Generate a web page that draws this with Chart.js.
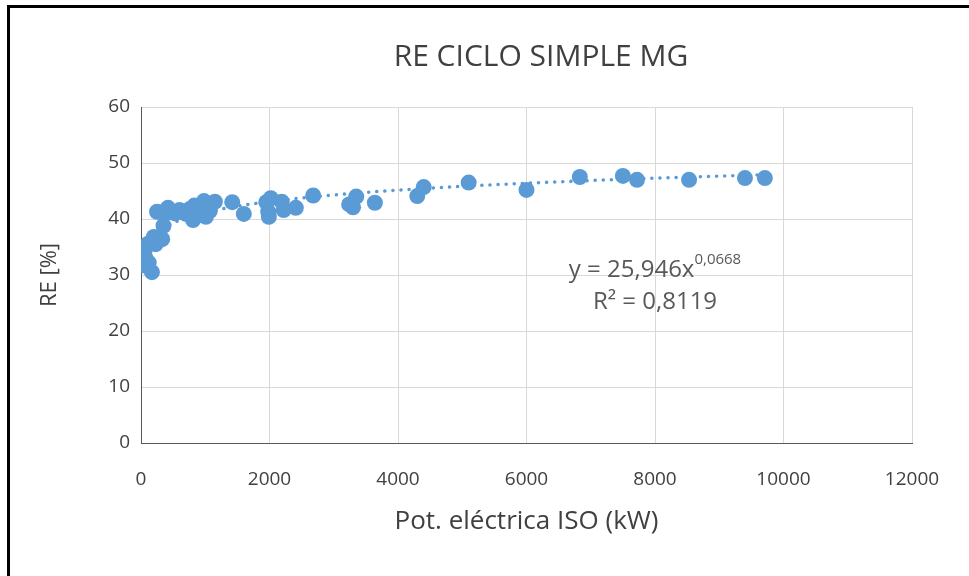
<!DOCTYPE html>
<html lang="es">
<head>
    <meta charset="UTF-8">
    <title>RE ciclo simple MG</title>
    <script src="https://cdn.jsdelivr.net/npm/chart.js"></script>
</head>
<style>
    html, body {
        margin: 0;
        padding: 0;
        background: #ffffff;
    }
    .frame {
        position: relative;
        width: 969px;
        height: 576px;
        overflow: hidden;
    }
    .edge-top {
        position: absolute;
        left: 7px; top: 5px;
        width: 962px; height: 3px;
        background: #000;
    }
    .edge-left {
        position: absolute;
        left: 7px; top: 5px;
        width: 3px; height: 571px;
        background: #000;
    }
    canvas {
        position: absolute;
        left: 0; top: 0;
    }
</style>
<body>
    <div class="frame">
        <canvas id="reChart" width="969" height="576"></canvas>
        <div class="edge-top"></div>
        <div class="edge-left"></div>
    </div>
    <script>
        // potencia ISO (kW) y rendimiento electrico (%)
        const potencia = [
            50, 60, 70, 110, 120, 170, 200, 230, 250, 330, 350, 370, 420,
            450, 530, 600, 650, 700, 760, 810, 830, 880, 920, 980, 1010,
            1050, 1070, 1100, 1150, 1420, 1600, 1950, 1980, 1990, 2020,
            2190, 2220, 2410, 2680, 3240, 3300, 3350, 3640, 4300, 4400,
            5100, 6000, 6830, 7500, 7720, 8530, 9400, 9710
        ];
        const rendimiento = [
            31.7, 34.5, 33.0, 35.6, 32.2, 30.5, 36.8, 35.5, 41.3, 36.4, 38.8, 41.4, 42.0,
            41.2, 41.0, 41.6, 41.2, 40.9, 41.8, 39.8, 42.4, 41.6, 40.7, 43.2, 40.4,
            42.2, 41.4, 42.7, 43.1, 43.0, 40.9, 43.0, 41.3, 40.4, 43.7,
            43.1, 41.6, 42.0, 44.2, 42.6, 42.1, 44.0, 42.9, 44.1, 45.7,
            46.5, 45.2, 47.5, 47.7, 47.0, 47.0, 47.3, 47.3
        ];

        // linea de tendencia potencial (Excel): y = 25,946 x^0,0668
        const trendA = 25.946;
        const trendB = 0.0668;
        const trendFrom = 50;
        const trendTo = 9710;

        const xTicks = [0, 2000, 4000, 6000, 8000, 10000, 12000];
        const yTicks = [0, 10, 20, 30, 40, 50, 60];

        const points = potencia.map((p, i) => ({ x: p, y: rendimiento[i] }));

        const trend = [];
        for (let k = 0; k <= 200; k++) {
            // espaciado logaritmico para que la curva sea suave cerca de cero
            const x = trendFrom * Math.pow(trendTo / trendFrom, k / 200);
            trend.push({ x: x, y: trendA * Math.pow(x, trendB) });
        }

        const textColor = '#404040';
        const fontName = "'Open Sans', 'Liberation Sans', sans-serif";

        // titulo centrado sobre todo el recuadro, no solo sobre el area del grafico
        const chartTitle = {
            id: 'chartTitle',
            afterDraw(chart) {
                const ctx = chart.ctx;
                ctx.save();
                ctx.fillStyle = textColor;
                ctx.font = '30px ' + fontName;
                ctx.textAlign = 'center';
                ctx.textBaseline = 'middle';
                ctx.fillText('RE CICLO SIMPLE MG', 541, 57);
                ctx.restore();
            }
        };

        // ecuacion y R2 dibujados dentro del area del grafico
        const equationLabel = {
            id: 'equationLabel',
            afterDatasetsDraw(chart) {
                const ctx = chart.ctx;
                const xs = chart.scales.x;
                const ys = chart.scales.y;
                ctx.save();
                ctx.fillStyle = '#595959';
                ctx.textBaseline = 'middle';
                const baseX = xs.getPixelForValue(8000);
                const y1 = ys.getPixelForValue(30.9);
                const main = 'y = 25,946x';
                const sup = '0,0668';
                ctx.font = '24px ' + fontName;
                const w = ctx.measureText(main).width;
                ctx.font = '15px ' + fontName;
                const ws = ctx.measureText(sup).width;
                const startX = baseX - (w + ws) / 2;
                ctx.textAlign = 'left';
                ctx.font = '24px ' + fontName;
                ctx.fillText(main, startX, y1);
                ctx.font = '15px ' + fontName;
                ctx.fillText(sup, startX + w, y1 - 10);
                ctx.font = '24px ' + fontName;
                ctx.textAlign = 'center';
                ctx.fillText('R² = 0,8119', baseX, ys.getPixelForValue(25.1));
                ctx.restore();
            }
        };

        const ctx = document.getElementById('reChart').getContext('2d');
        const reChart = new Chart(ctx, {
            type: 'scatter',
            data: {
                datasets: [{
                    label: 'RE',
                    data: points,
                    backgroundColor: '#5b9bd5',
                    borderColor: '#5b9bd5',
                    pointRadius: 8,
                    pointHoverRadius: 8,
                    borderWidth: 0,
                    order: 1
                }, {
                    label: 'Potencial (RE)',
                    type: 'line',
                    data: trend,
                    borderColor: '#5b9bd5',
                    borderWidth: 3.5,
                    borderDash: [0.1, 8],
                    borderCapStyle: 'round',
                    pointRadius: 0,
                    fill: false,
                    tension: 0,
                    order: 2
                }]
            },
            options: {
                responsive: false,
                animation: false,
                layout: { padding: { left: 0, right: 57, top: 107, bottom: 0 } },
                plugins: {
                    legend: { display: false },
                    tooltip: { enabled: false },
                    title: { display: false }
                },
                scales: {
                    x: {
                        type: 'linear',
                        min: 0,
                        max: 12000,
                        afterBuildTicks: s => { s.ticks = xTicks.map(v => ({ value: v })); },
                        afterFit: s => { s.height = 133; },
                        ticks: {
                            color: textColor,
                            font: { family: fontName, size: 19 },
                            padding: 25,
                            maxRotation: 0,
                            callback: v => String(v)
                        },
                        grid: { color: '#d9d9d9', drawTicks: false },
                        border: { color: '#595959', width: 1 },
                        title: {
                            display: true,
                            text: 'Pot. eléctrica ISO (kW)',
                            color: textColor,
                            font: { family: fontName, size: 26 },
                            padding: { top: 0, bottom: 39 }
                        }
                    },
                    y: {
                        min: 0,
                        max: 60,
                        afterBuildTicks: s => { s.ticks = yTicks.map(v => ({ value: v })); },
                        afterFit: s => { s.width = 141; },
                        ticks: {
                            color: textColor,
                            font: { family: fontName, size: 19 },
                            padding: 11,
                            callback: v => String(v)
                        },
                        grid: { color: '#d9d9d9', drawTicks: false },
                        border: { color: '#595959', width: 1 },
                        title: {
                            display: true,
                            text: 'RE [%]',
                            color: textColor,
                            font: { family: fontName, size: 22 },
                            padding: { top: 37, bottom: 0 }
                        }
                    }
                }
            },
            plugins: [chartTitle, equationLabel]
        });
    </script>
</body>
</html>
